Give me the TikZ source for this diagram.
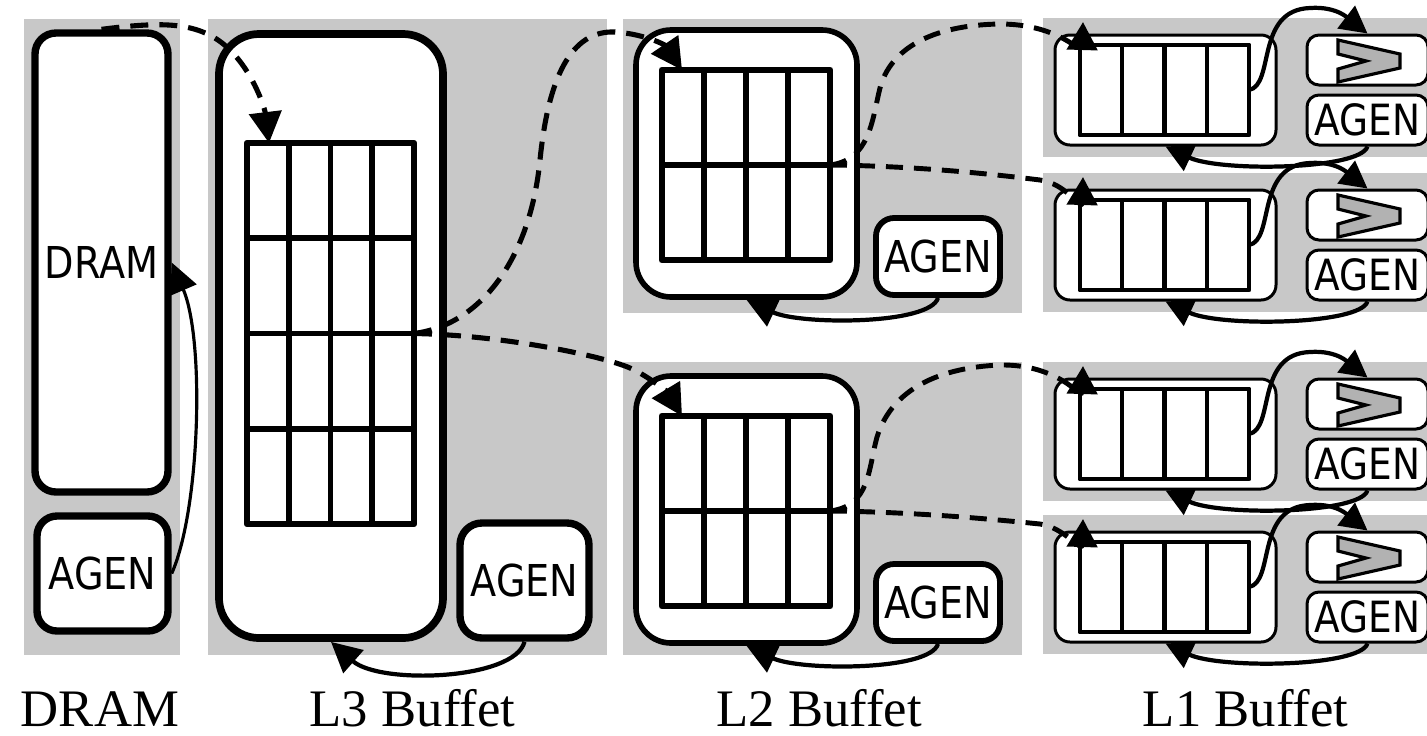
\documentclass[tikz,border=0pt]{standalone}
\usepackage{fontspec}
\setmainfont{Liberation Serif}
\newfontfamily\agenfont[FakeStretch=0.87]{DejaVu Sans}
\usetikzlibrary{arrows.meta,calc}
\definecolor{panelgray}{RGB}{200,200,200}
\definecolor{chevgray}{RGB}{178,178,178}
\begin{document}
\begin{tikzpicture}[x=0.02cm,y=-0.02cm, line join=round,
  sans/.style={font=\agenfont\fontsize{25pt}{30pt}\selectfont},
  sansS/.style={font=\agenfont\fontsize{24.5pt}{29pt}\selectfont},
  levellabel/.style={font=\fontsize{30pt}{36pt}\selectfont, anchor=base, inner sep=0pt},
  thickbox/.style={draw, fill=white, line width=4.2pt, inner sep=0pt},
  midbox/.style={draw, fill=white, line width=3.3pt, inner sep=0pt},
  thinbox/.style={draw, fill=white, line width=1.7pt, inner sep=0pt},
  gridbig/.style={draw, fill=white, line width=3.7pt, inner sep=0pt, outer sep=0pt},
  gridsmall/.style={draw, fill=white, line width=2.8pt, inner sep=0pt, outer sep=0pt},
  dashconn/.style={line width=2.9pt, dash pattern=on 0.36cm off 0.22cm, -{Triangle[length=0.62cm,width=0.64cm]}},
  dashsmall/.style={line width=2.8pt, dash pattern=on 0.34cm off 0.22cm, -{Triangle[length=0.56cm,width=0.6cm]}},
  solidconn/.style={line width=2.4pt, -{Triangle[length=0.6cm,width=0.6cm]}},
  smallconn/.style={line width=2.4pt, -{Triangle[length=0.54cm,width=0.56cm]}},
  thinconn/.style={line width=1.8pt, -{Triangle[length=0.6cm,width=0.56cm]}},
]
\useasboundingbox (0,0) rectangle (1427,735);
\clip (0,0) rectangle (1427,735);

% grey panels
\fill[panelgray] (24,19) rectangle (180,655);
\fill[panelgray] (208,19) rectangle (607,655);
\fill[panelgray] (623,19) rectangle (1022,313);
\fill[panelgray] (623,362) rectangle (1022,655);
\foreach \d in {0,155,344,497} {
  \fill[panelgray] (1043,18+\d) rectangle (1427,157+\d);
}

% DRAM
\node[thickbox, rounded corners=0.42cm, minimum width=133*0.02cm, minimum height=459*0.02cm, sans] (dram) at (101.5,262.5) {DRAM};
\node[thickbox, rounded corners=0.4cm, minimum width=131*0.02cm, minimum height=115*0.02cm, sans] (dagen) at (102.5,573.5) {AGEN};

% L3
\node[thickbox, line width=4.4pt, rounded corners=0.8cm, minimum width=224*0.02cm, minimum height=604*0.02cm] (l3box) at (331,336) {};
\node[gridbig, minimum width=167*0.02cm, minimum height=381*0.02cm] (l3grid) at (330.5,333.5) {};
\foreach \k in {1,2,3} {
  \draw[line width=3.4pt] ($(l3grid.north west)!\k/4!(l3grid.north east)$) -- ($(l3grid.south west)!\k/4!(l3grid.south east)$);
  \draw[line width=3.4pt] ($(l3grid.north west)!\k/4!(l3grid.south west)$) -- ($(l3grid.north east)!\k/4!(l3grid.south east)$);
}
\node[thickbox, rounded corners=0.44cm, minimum width=129*0.02cm, minimum height=115*0.02cm, sans] (l3agen) at (524.5,580.5) {AGEN};

% L2
\foreach \d/\s in {0/a,346/b} {
  \node[midbox, line width=3.2pt, rounded corners=0.7cm, minimum width=221*0.02cm, minimum height=267*0.02cm] (l2box\s) at (746.5,163.5+\d) {};
  \node[gridbig, line width=3.9pt, minimum width=168*0.02cm, minimum height=190*0.02cm] (l2grid\s) at (746,165+\d) {};
  \foreach \k in {1,2,3} {
    \draw[line width=3.4pt] ($(l2grid\s.north west)!\k/4!(l2grid\s.north east)$) -- ($(l2grid\s.south west)!\k/4!(l2grid\s.south east)$);
  }
  \draw[line width=3.6pt] (l2grid\s.west) -- (l2grid\s.east);
  \node[midbox, rounded corners=0.36cm, minimum width=124*0.02cm, minimum height=77*0.02cm, sans] (l2agen\s) at (938,256.5+\d) {AGEN};
  \draw[solidconn] (l2agen\s.south) .. controls (930,325+\d) and (800,325+\d) .. (l2box\s.south);
}

% L1
\foreach \d/\n in {0/1,155/2,344/3,497/4} {
  \node[thinbox, rounded corners=0.3cm, minimum width=221*0.02cm, minimum height=110*0.02cm] (l1box\n) at (1165.5,90+\d) {};
  \node[gridsmall, minimum width=169*0.02cm, minimum height=90*0.02cm] (l1grid\n) at (1164.5,90+\d) {};
  \foreach \k in {1,2,3} {
    \draw[line width=2.5pt] ($(l1grid\n.north west)!\k/4!(l1grid\n.north east)$) -- ($(l1grid\n.south west)!\k/4!(l1grid\n.south east)$);
  }
  \node[thinbox, rounded corners=0.24cm, minimum width=121*0.02cm, minimum height=50*0.02cm] (l1comp\n) at (1367.5,60+\d) {};
  \filldraw[fill=chevgray, line width=1.8pt, line join=miter] (1338,40+\d) -- (1400,54+\d) -- (1400,68+\d) -- (1338,82+\d) -- (1338,69+\d) -- (1366,61+\d) -- (1338,54+\d) -- cycle;
  \node[thinbox, rounded corners=0.24cm, minimum width=121*0.02cm, minimum height=50*0.02cm, sansS] (l1agen\n) at (1367.5,120+\d) {AGEN};
  \draw[smallconn] (l1grid\n.east) .. controls (1275,85+\d) and (1255,10+\d) .. (1310,8+\d) .. controls (1338,6+\d) and (1350,20+\d) .. (l1comp\n.north);
  \draw[smallconn] (l1agen\n.south) .. controls (1360,170+\d) and (1220,172+\d) .. (l1box\n.south);
}

% DRAM connectors
\draw[thinconn] (dagen.east) .. controls (200,510) and (205,340) .. (dram.east);
\draw[dashconn] (dram.north) .. controls (160,22) and (200,20) .. (230,50) .. controls (255,75) and (265,110) .. ($(l3grid.north west)+(22,0)$);

% L3 connectors
\draw[solidconn] (l3agen.south) .. controls (515,680) and (380,685) .. (l3box.south);
\draw[dashconn] (l3grid.east) .. controls (480,325) and (530,260) .. (540,160) .. controls (548,80) and (570,30) .. (615,32) .. controls (645,34) and (665,45) .. ($(l2grida.north west)+(20,0)$);
\draw[dashconn] (l3grid.east) .. controls (500,335) and (600,355) .. (630,368) .. controls (650,377) and (668,393) .. ($(l2gridb.north west)+(20,0)$);

% L2 -> L1 connectors
\draw[dashsmall] (l2grida.east) .. controls (870,160) and (872,120) .. (880,88) .. controls (890,50) and (930,25) .. (1000,24) .. controls (1060,24) and (1082,55) .. ($(l1grid1.north west)+(3,-23)$);
\draw[dashsmall] (l2grida.east) .. controls (920,166) and (1000,175) .. (1040,180) .. controls (1065,183) and (1082,210) .. ($(l1grid2.north west)+(3,-23)$);
\draw[dashsmall] (l2gridb.east) .. controls (870,506) and (868,470) .. (877,437) .. controls (890,395) and (930,368) .. (1000,365) .. controls (1060,364) and (1082,400) .. ($(l1grid3.north west)+(3,-23)$);
\draw[dashsmall] (l2gridb.east) .. controls (920,512) and (1000,520) .. (1040,524) .. controls (1063,527) and (1082,552) .. ($(l1grid4.north west)+(3,-23)$);

% captions
\node[levellabel] (capdram) at (100,726) {DRAM};
\node[levellabel] (capl3) at (412.5,726) {L3 Buffet};
\node[levellabel] (capl2) at (819,726) {L2 Buffet};
\node[levellabel] (capl1) at (1245.5,726) {L1 Buffet};
\end{tikzpicture}
\end{document}
